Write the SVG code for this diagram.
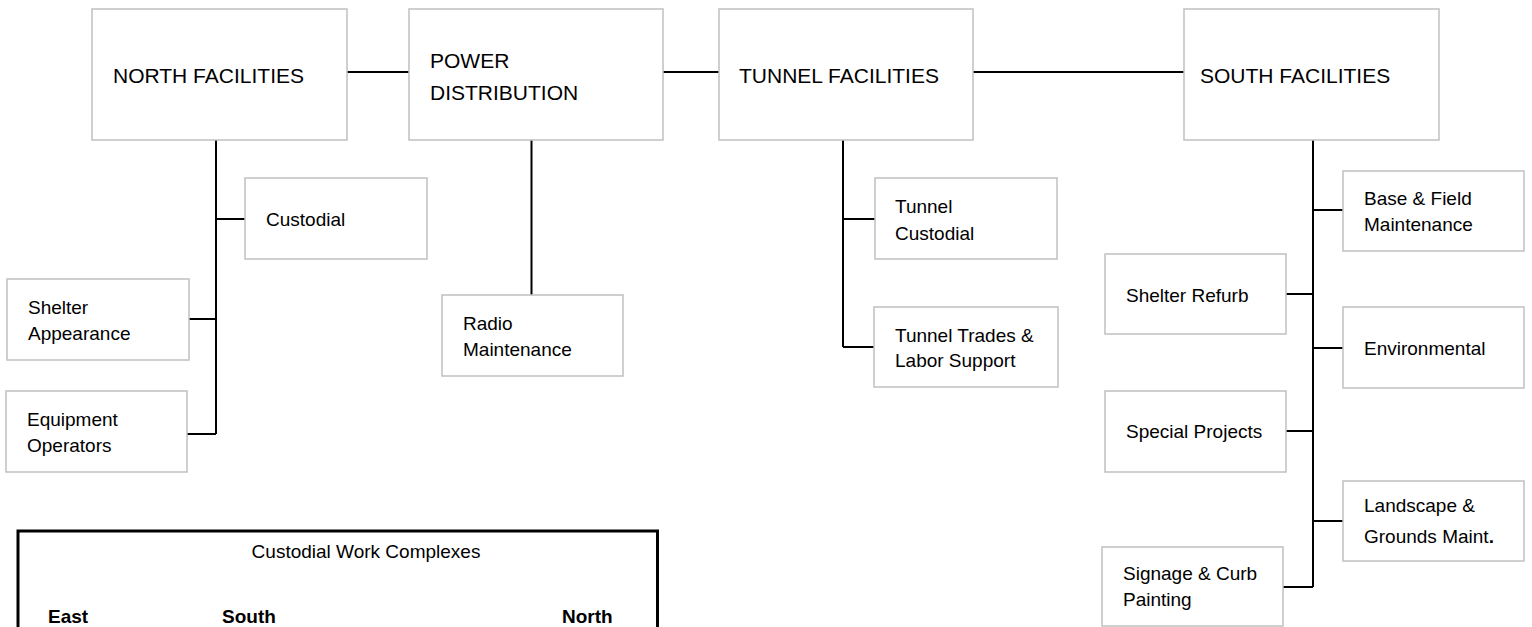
<svg xmlns="http://www.w3.org/2000/svg" width="1532" height="627" viewBox="0 0 1532 627">
<style>
.box{fill:#fff;stroke:#c0c0c0;stroke-width:1.5}
.big{font-family:"Liberation Sans",Arial,sans-serif;font-size:21px;fill:#000}
.sm{font-family:"Liberation Sans",Arial,sans-serif;font-size:19px;fill:#000}
.bold{font-family:"Liberation Sans",Arial,sans-serif;font-size:19px;font-weight:bold;fill:#000}
.ln{stroke:#000;stroke-width:2;fill:none}
</style>
<rect width="1532" height="627" fill="#fff"/>
<g id="connectors">
<line class="ln" x1="347" y1="72" x2="409" y2="72"/>
<line class="ln" x1="663" y1="72" x2="719" y2="72"/>
<line class="ln" x1="973" y1="72" x2="1184" y2="72"/>
<path class="ln" d="M216 140 V434 M216 219 H245 M189 319 H216 M187 434 H216"/>
<line class="ln" x1="531.5" y1="140" x2="531.5" y2="295"/>
<path class="ln" d="M843 140 V347 M843 219 H875 M843 347 H874"/>
<path class="ln" d="M1313 140 V587 M1313 210 H1343 M1286 294 H1313 M1313 348 H1343 M1286 431 H1313 M1313 521 H1343 M1283 587 H1313"/>
</g>
<g id="north-facilities"><rect class="box" x="92" y="9" width="255" height="131"/><text class="big" x="113" y="83">NORTH FACILITIES</text></g>
<g id="power-distribution"><rect class="box" x="409" y="9" width="254" height="131"/><text class="big" x="430" y="68">POWER</text><text class="big" x="430" y="100">DISTRIBUTION</text></g>
<g id="tunnel-facilities"><rect class="box" x="719" y="9" width="254" height="131"/><text class="big" x="739" y="83">TUNNEL FACILITIES</text></g>
<g id="south-facilities"><rect class="box" x="1184" y="9" width="255" height="131"/><text class="big" x="1200" y="83">SOUTH FACILITIES</text></g>
<g id="custodial"><rect class="box" x="245" y="178" width="182" height="81"/><text class="sm" x="266" y="226">Custodial</text></g>
<g id="shelter-appearance"><rect class="box" x="7" y="279" width="182" height="81"/><text class="sm" x="28" y="314">Shelter</text><text class="sm" x="28" y="340">Appearance</text></g>
<g id="equipment-operators"><rect class="box" x="6" y="391" width="181" height="81"/><text class="sm" x="27" y="426">Equipment</text><text class="sm" x="27" y="452">Operators</text></g>
<g id="radio-maintenance"><rect class="box" x="442" y="295" width="181" height="81"/><text class="sm" x="463" y="330">Radio</text><text class="sm" x="463" y="356">Maintenance</text></g>
<g id="tunnel-custodial"><rect class="box" x="875" y="178" width="182" height="81"/><text class="sm" x="895" y="213">Tunnel</text><text class="sm" x="895" y="240">Custodial</text></g>
<g id="tunnel-trades"><rect class="box" x="874" y="307" width="184" height="80"/><text class="sm" x="895" y="342">Tunnel Trades &amp;</text><text class="sm" x="895" y="367">Labor Support</text></g>
<g id="base-field"><rect class="box" x="1343" y="171" width="181" height="80"/><text class="sm" x="1364" y="205">Base &amp; Field</text><text class="sm" x="1364" y="231">Maintenance</text></g>
<g id="shelter-refurb"><rect class="box" x="1105" y="254" width="181" height="80"/><text class="sm" x="1126" y="302">Shelter Refurb</text></g>
<g id="environmental"><rect class="box" x="1343" y="307" width="181" height="81"/><text class="sm" x="1364" y="355">Environmental</text></g>
<g id="special-projects"><rect class="box" x="1105" y="391" width="181" height="81"/><text class="sm" x="1126" y="438">Special Projects</text></g>
<g id="landscape"><rect class="box" x="1343" y="481" width="181" height="80"/><text class="sm" x="1364" y="512">Landscape &amp;</text><text class="sm" x="1364" y="543">Grounds Maint<tspan font-weight="bold">.</tspan></text></g>
<g id="signage"><rect class="box" x="1102" y="547" width="181" height="79"/><text class="sm" x="1123" y="580">Signage &amp; Curb</text><text class="sm" x="1123" y="606">Painting</text></g>
<g id="legend">
<path d="M18 640 V531 H657.5 V640" fill="none" stroke="#000" stroke-width="3"/>
<text class="sm" x="366" y="558" text-anchor="middle">Custodial Work Complexes</text>
<text class="bold" x="48" y="623">East</text>
<text class="bold" x="222" y="623">South</text>
<text class="bold" x="562" y="623">North</text>
</g>
</svg>
